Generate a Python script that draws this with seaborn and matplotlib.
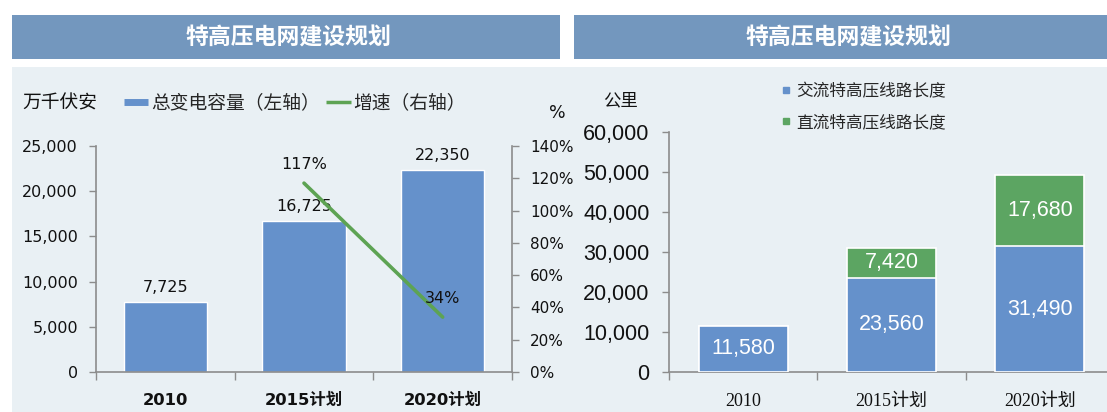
import matplotlib
matplotlib.use("Agg")
import matplotlib.pyplot as plt
from matplotlib.patches import Rectangle
from matplotlib.lines import Line2D
from matplotlib.ticker import FuncFormatter, FixedLocator
import seaborn as sns

# ---- data ----
years_left = ["2010", "2015计划", "2020计划"]
capacity = [7725, 16725, 22350]          # 总变电容量 (万千伏安)
growth_years = ["2015计划", "2020计划"]
growth = [117, 34]                         # 增速 (%)

years_right = ["2010", "2015计划", "2020计划"]
ac_length = [11580, 23560, 31490]          # 交流特高压线路长度 (公里)
dc_length = [0, 7420, 17680]               # 直流特高压线路长度 (公里)

title = "特高压电网建设规划"

# ---- style ----
sns.set_theme(style="white")
CJK = ["Noto Sans CJK SC", "DejaVu Sans"]
plt.rcParams["font.family"] = CJK
plt.rcParams["axes.unicode_minus"] = False

HEADER = "#7397BE"
PANEL_BG = "#E9F0F4"
BLUE = "#6591CB"
GREEN_BAR = "#5CA562"
GREEN_LINE = "#5DA353"
SPINE = "#8C8C8C"
TXT = "#111111"

W, H = 1107, 412
fig = plt.figure(figsize=(W / 100, H / 100), dpi=100)
fig.patch.set_facecolor("white")


def fx(px):
    return px / W


def fy(py):
    return 1 - py / H


# panel backgrounds and headers
fig.add_artist(Rectangle((fx(12), 0), fx(W - 12), fy(67), transform=fig.transFigure,
                         facecolor=PANEL_BG, edgecolor="none", zorder=0))
fig.add_artist(Rectangle((fx(12), fy(59)), fx(548), fy(15) - fy(59), transform=fig.transFigure,
                         facecolor=HEADER, edgecolor="none", zorder=0))
fig.add_artist(Rectangle((fx(574), fy(59)), fx(W - 574), fy(15) - fy(59), transform=fig.transFigure,
                         facecolor=HEADER, edgecolor="none", zorder=0))
for cx in (288, 848):
    fig.text(fx(cx), fy(38), title, ha="center", va="center", color="white",
             fontsize=16.5, fontweight="bold", family=CJK)

thousands = FuncFormatter(lambda v, p: f"{int(v):,}")

# ================= left chart =================
axL = fig.add_axes([fx(96), fy(372), fx(416), fy(146) - fy(372)])
axL.set_facecolor("none")
sns.barplot(x=years_left, y=capacity, color=BLUE, saturation=1, width=0.6,
            ax=axL, zorder=2)
axL.set_xlim(-0.5, 2.5)
axL.set_ylim(0, 25000)
axL.yaxis.set_major_locator(FixedLocator(range(0, 25001, 5000)))
axL.yaxis.set_major_formatter(thousands)
axL.set_xlabel("")
axL.set_ylabel("")
for s in ("top", "right"):
    axL.spines[s].set_visible(False)
for s in ("left", "bottom"):
    axL.spines[s].set_color(SPINE)
    axL.spines[s].set_linewidth(1.2)
axL.tick_params(axis="y", direction="out", length=5, width=1, color=SPINE,
                pad=8, labelsize=11.5, labelcolor=TXT, left=True)
axL.xaxis.set_minor_locator(FixedLocator([-0.5, 0.5, 1.5, 2.5]))
axL.tick_params(axis="x", which="major", length=0, pad=15, labelsize=11.8, labelcolor=TXT)
axL.tick_params(axis="x", which="minor", direction="out", length=6, width=1, color=SPINE, bottom=True)
for lab in axL.get_yticklabels():
    lab.set_family("DejaVu Sans")
for lab in axL.get_xticklabels():
    lab.set_family(["DejaVu Sans", "Noto Sans CJK SC"])
    lab.set_fontweight("bold")
for cont in axL.containers:
    labels = axL.bar_label(cont, labels=[f"{v:,}" for v in capacity], padding=5,
                           fontsize=11.5, color=TXT)
    for t in labels:
        t.set_family("DejaVu Sans")

axR = axL.twinx()
axR.set_facecolor("none")
growth_x = [years_left.index(y) for y in growth_years]
sns.lineplot(x=growth_x, y=growth, color=GREEN_LINE, linewidth=2.6, ax=axR, zorder=3)
axR.set_xlim(-0.5, 2.5)
axR.set_ylim(0, 140)
axR.yaxis.set_major_locator(FixedLocator(range(0, 141, 20)))
axR.yaxis.set_major_formatter(FuncFormatter(lambda v, p: f"{int(v)}%"))
axR.set_ylabel("")
for s in ("top", "left", "bottom"):
    axR.spines[s].set_visible(False)
axR.spines["right"].set_color(SPINE)
axR.spines["right"].set_linewidth(1.2)
axR.tick_params(axis="y", direction="out", length=5, width=1, color=SPINE,
                pad=8, labelsize=11, labelcolor=TXT, right=True)
for lab in axR.get_yticklabels():
    lab.set_family("DejaVu Sans")
for xv, yv in zip(growth_x, growth):
    axR.annotate(f"{yv}%", (xv, yv), xytext=(0, 13.5), textcoords="offset points",
                 ha="center", va="center", fontsize=11.5, color=TXT, family="DejaVu Sans")

fig.text(fx(22), fy(103), "万千伏安", ha="left", va="center", fontsize=13.5, color=TXT)
fig.text(fx(557), fy(113), "%", ha="center", va="center", fontsize=12.5, color=TXT,
         family="DejaVu Sans")
handlesL = [Line2D([], [], color=BLUE, linewidth=5, solid_capstyle="butt"),
            Line2D([], [], color=GREEN_LINE, linewidth=2.5, solid_capstyle="butt")]
fig.legend(handlesL, ["总变电容量（左轴）", "增速（右轴）"], loc="center left",
           bbox_to_anchor=(fx(120), fy(103)), ncol=2, frameon=False, fontsize=13.5,
           handlelength=1.3, handletextpad=0.15, columnspacing=0.35,
           borderaxespad=0, borderpad=0.2)

# ================= right chart =================
ax2 = fig.add_axes([fx(669), fy(372), fx(445), fy(132) - fy(372)])
ax2.set_facecolor("none")
totals = [a + d for a, d in zip(ac_length, dc_length)]
sns.barplot(x=years_right, y=totals, color=GREEN_BAR, saturation=1, width=0.6,
            edgecolor="white", linewidth=1.2, ax=ax2, zorder=2)
sns.barplot(x=years_right, y=ac_length, color=BLUE, saturation=1, width=0.6,
            edgecolor="white", linewidth=1.2, ax=ax2, zorder=3)
ax2.set_xlim(-0.5, 2.5)
ax2.set_ylim(0, 60000)
ax2.yaxis.set_major_locator(FixedLocator(range(0, 60001, 10000)))
ax2.yaxis.set_major_formatter(thousands)
ax2.set_xlabel("")
ax2.set_ylabel("")
for s in ("top", "right"):
    ax2.spines[s].set_visible(False)
for s in ("left", "bottom"):
    ax2.spines[s].set_color(SPINE)
    ax2.spines[s].set_linewidth(1.2)
ax2.tick_params(axis="y", direction="out", length=5, width=1, color=SPINE,
                pad=9, labelsize=15.5, labelcolor=TXT, left=True)
ax2.xaxis.set_minor_locator(FixedLocator([-0.5, 0.5, 1.5, 2.5]))
ax2.tick_params(axis="x", which="major", length=0, pad=15, labelsize=13, labelcolor=TXT)
ax2.tick_params(axis="x", which="minor", direction="out", length=6, width=1, color=SPINE, bottom=True)
for lab in ax2.get_yticklabels():
    lab.set_family("Liberation Sans")
for lab in ax2.get_xticklabels():
    lab.set_family(["Liberation Serif", "Noto Sans CJK SC"])

green_c, blue_c = ax2.containers[0], ax2.containers[1]
# value labels: blue segment from ac_length, green segment (top part) from dc_length
for bar, v in zip(blue_c, ac_length):
    ax2.text(bar.get_x() + bar.get_width() / 2, v / 2, f"{v:,}", ha="center", va="center",
             color="white", fontsize=15.5, family="Liberation Sans", zorder=5)
for bar, a, d in zip(green_c, ac_length, dc_length):
    if d > 0:
        ax2.text(bar.get_x() + bar.get_width() / 2, a + d / 2, f"{d:,}", ha="center",
                 va="center", color="white", fontsize=15.5, family="Liberation Sans", zorder=5)

fig.text(fx(620), fy(100), "公里", ha="center", va="center", fontsize=12.5, color=TXT)
handlesR = [Line2D([], [], color=BLUE, marker="s", markersize=4.5, linestyle="none"),
            Line2D([], [], color=GREEN_BAR, marker="s", markersize=4.5, linestyle="none")]
fig.legend(handlesR, ["交流特高压线路长度", "直流特高压线路长度"], loc="upper left",
           bbox_to_anchor=(fx(782), fy(83)), ncol=1, frameon=False, fontsize=12,
           handlelength=0.5, handletextpad=0.35, labelspacing=0.85,
           borderaxespad=0, borderpad=0)

fig.savefig("out.png", dpi=100, facecolor="white")
